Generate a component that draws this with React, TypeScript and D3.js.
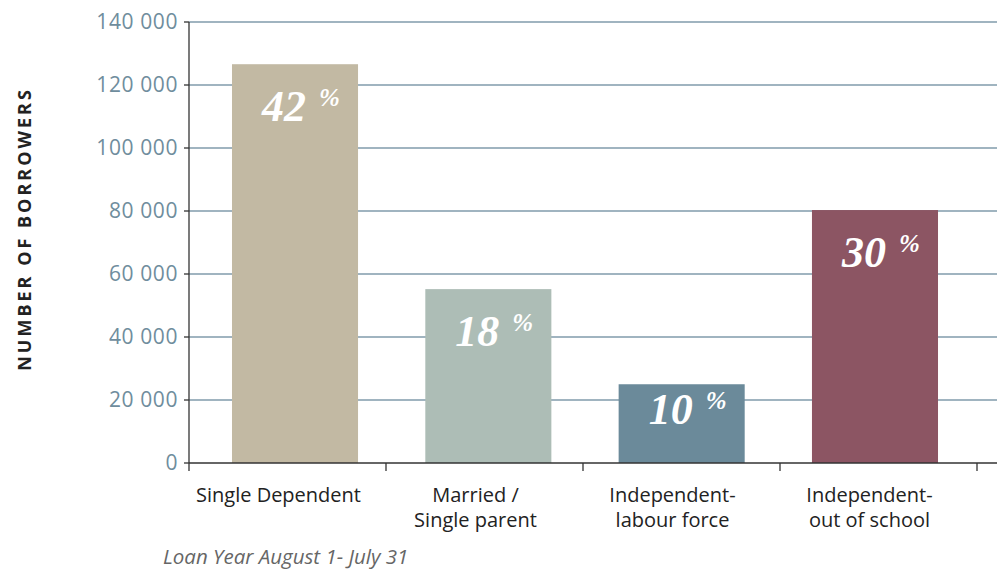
import React from "react";
import * as d3 from "d3";

const categories = [
  ["Single Dependent"],
  ["Married /", "Single parent"],
  ["Independent-", "labour force"],
  ["Independent-", "out of school"],
];
const values = [126600, 55200, 25000, 80300];
const shares = ["42", "18", "10", "30"];
const colors = ["#c2b9a3", "#adbdb6", "#6b8a9a", "#8c5563"];
const yTicks = [0, 20000, 40000, 60000, 80000, 100000, 120000, 140000];
const yTickLabels = ["0", "20 000", "40 000", "60 000", "80 000", "100 000", "120 000", "140 000"];

const W = 997;
const H = 569;
const left = 189;
const right = 997;
const top = 22;
const bottom = 463;
const font = "'Open Sans', sans-serif";

export default function App() {
  const x = d3
    .scaleBand<number>()
    .domain(d3.range(categories.length))
    .range([left, left + 197 * 4]);
  const xb = d3
    .scaleBand<number>()
    .domain(d3.range(categories.length))
    .range([198.35, 971.65])
    .paddingInner(0.348)
    .paddingOuter(0.174);
  const y = d3.scaleLinear().domain([0, 140000]).range([bottom, top]);
  const bw = xb.bandwidth();
  const step = x.step();
  const boundaries = d3.range(categories.length + 1).map((i) => left + i * step);

  return (
    <svg width={W} height={H} style={{ position: "absolute", left: 0, top: 0, background: "#fff" }}>
      {yTicks.map((t, i) =>
        t > 0 ? (
          <line key={"g" + i} x1={left} x2={right} y1={y(t)} y2={y(t)} stroke="#819bab" strokeWidth={1.3} />
        ) : null
      )}
      {values.map((v, i) => (
        <rect key={"b" + i} x={xb(i)} y={y(v)} width={bw} height={bottom - y(v)} fill={colors[i]} />
      ))}
      {values.map((v, i) => {
        const h = bottom - y(v);
        const off = Math.min(57, h / 2);
        return (
          <text
            key={"l" + i}
            x={(xb(i) as number) + 30}
            y={y(v) + off}
            textAnchor="start"
            fill="#fff"
            fontFamily="'Liberation Serif', 'DejaVu Serif', serif"
            fontStyle="italic"
            fontWeight="bold"
            fontSize={44}
          >
            {shares[i]}
            <tspan fontSize={25} dx={13} dy={-15}>%</tspan>
          </text>
        );
      })}
      <line x1={left} x2={left} y1={top} y2={bottom} stroke="#333" strokeWidth={1.3} />
      <line x1={left} x2={right} y1={bottom} y2={bottom} stroke="#333" strokeWidth={1.3} />
      {yTicks.map((t, i) => (
        <g key={"yt" + i}>
          <line x1={left - 5} x2={left} y1={y(t)} y2={y(t)} stroke="#333" strokeWidth={1.3} />
          <text
            x={left - 11}
            y={y(t)}
            dy="0.35em"
            textAnchor="end"
            fill="#6f8d9d"
            fontFamily={font}
            fontSize={21}
            letterSpacing={0.6}
          >
            {yTickLabels[i]}
          </text>
        </g>
      ))}
      {boundaries.map((b, i) => (
        <line key={"xt" + i} x1={b} x2={b} y1={bottom} y2={bottom + 8} stroke="#333" strokeWidth={1.3} />
      ))}
      {categories.map((lines, i) => {
        const cx = (x(i) as number) + step / 2 - 9;
        return (
          <text
            key={"c" + i}
            x={cx}
            y={502}
            textAnchor="middle"
            fill="#222"
            fontFamily={font}
            fontSize={20}
          >
            {lines.map((l, j) => (
              <tspan key={j} x={cx} dy={j === 0 ? 0 : 25}>
                {l}
              </tspan>
            ))}
          </text>
        );
      })}
      <text
        transform={`translate(31, 229) rotate(-90)`}
        textAnchor="middle"
        fill="#222"
        fontFamily={font}
        fontWeight="bold"
        fontSize={18}
        letterSpacing={3}
      >
        NUMBER OF BORROWERS
      </text>
      <text x={163} y={564} fill="#666" fontFamily={font} fontStyle="italic" fontSize={20.5}>
        Loan Year August 1- July 31
      </text>
    </svg>
  );
}
